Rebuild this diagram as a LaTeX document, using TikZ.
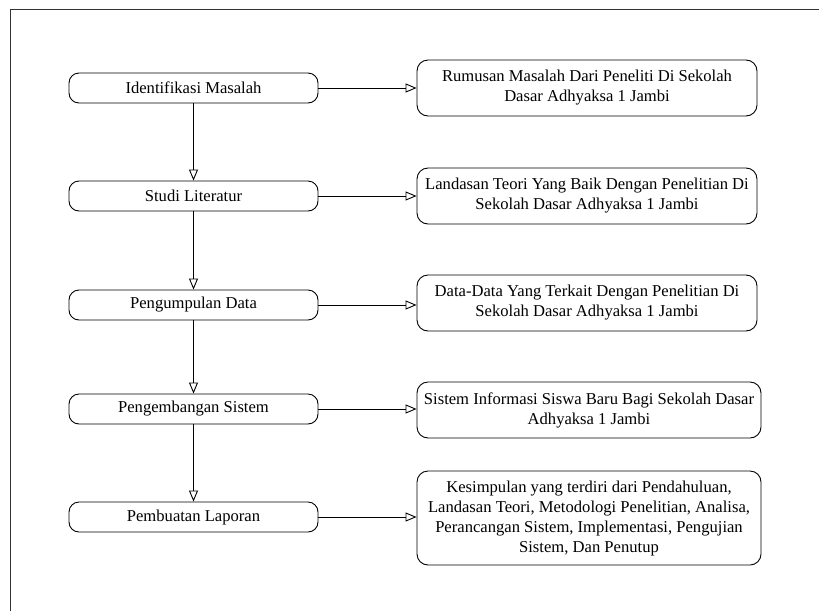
\documentclass[tikz,border=0pt]{standalone}
\usepackage{fontspec}
\setmainfont{Liberation Serif}
\usetikzlibrary{arrows.meta}
\begin{document}
\begin{tikzpicture}[x=1pt,y=-1pt,
  every node/.style={font=\fontsize{16.6}{20}\selectfont},
  stepbox/.style={draw, line width=0.9pt, rounded corners=10pt, minimum width=249pt, minimum height=30pt, inner sep=0pt, align=center},
  outbox/.style={draw, line width=0.9pt, rounded corners=11pt, minimum height=56pt, inner sep=0pt, align=center},
  conn/.style={draw, line width=0.9pt, -{Triangle[open, length=11pt, width=9pt, fill=white]}}]
\useasboundingbox (0,0) rectangle (819,611);
\draw[line width=1.6pt, black!80] (10.5,611) -- (10.5,9.5) -- (819,9.5);

\node[stepbox] (s1) at (193.5,88) {Identifikasi Masalah};
\node[stepbox] (s2) at (193.5,196) {Studi Literatur};
\node[stepbox] (s3) at (193.5,305) {Pengumpulan Data};
\node[stepbox] (s4) at (193.5,409) {Pengembangan Sistem};
\node[stepbox] (s5) at (193.5,517) {Pembuatan Laporan};

\node[outbox, minimum width=340pt] (r1) at (587,88) {Rumusan Masalah Dari Peneliti Di Sekolah\\Dasar Adhyaksa 1 Jambi};
\node[outbox, minimum width=340pt] (r2) at (587,196) {Landasan Teori Yang Baik Dengan Penelitian Di\\Sekolah Dasar Adhyaksa 1 Jambi};
\node[outbox, minimum width=340pt] (r3) at (587,303) {Data-Data Yang Terkait Dengan Penelitian Di\\Sekolah Dasar Adhyaksa 1 Jambi};
\node[outbox, minimum width=344pt] (r4) at (589,410) {Sistem Informasi Siswa Baru Bagi Sekolah Dasar\\Adhyaksa 1 Jambi};
\node[outbox, minimum width=344pt, minimum height=94pt] (r5) at (589,518) {Kesimpulan yang terdiri dari Pendahuluan,\\Landasan Teori, Metodologi Penelitian, Analisa,\\Perancangan Sistem, Implementasi, Pengujian\\Sistem, Dan Penutup};

\draw[conn] (s1) -- (s2);
\draw[conn] (s2) -- (s3);
\draw[conn] (s3) -- (s4);
\draw[conn] (s4) -- (s5);

\draw[conn] (s1.east) -- (r1.west |- s1.east);
\draw[conn] (s2.east) -- (r2.west |- s2.east);
\draw[conn] (s3.east) -- (r3.west |- s3.east);
\draw[conn] (s4.east) -- (r4.west |- s4.east);
\draw[conn] (s5.east) -- (r5.west |- s5.east);
\end{tikzpicture}
\end{document}
